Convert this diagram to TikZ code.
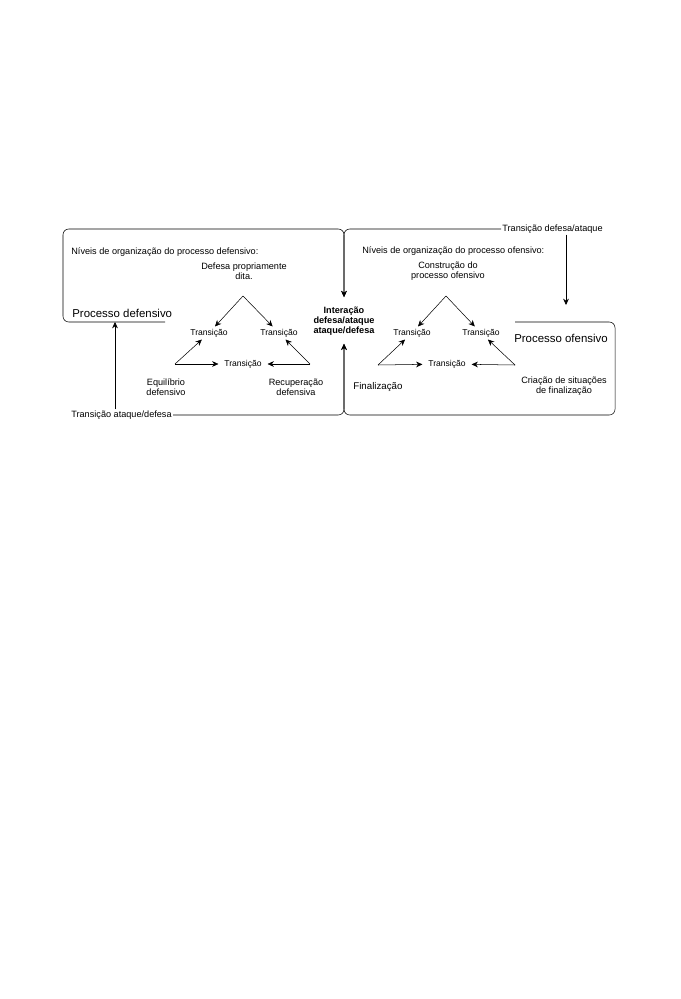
\documentclass[tikz,border=0pt]{standalone}
\usepackage{fontspec}
\setmainfont{Liberation Sans}
\usetikzlibrary{arrows.meta,positioning}

\begin{document}
\begin{tikzpicture}[x=0.875pt,y=-0.875pt,
    frame/.style={line width=0.6pt, rounded corners=5pt},
    link/.style={line width=0.45pt, -{Stealth[length=5.5pt,width=5pt]}},
    lbl/.style={font=\fontsize{8}{8.5}\selectfont, inner sep=1pt, align=center},
    tri/.style={font=\fontsize{7.5}{8}\selectfont, inner xsep=5pt, inner ysep=2pt},
    big/.style={font=\fontsize{10}{12}\selectfont, inner sep=1pt},
    mid/.style={font=\fontsize{8}{9}\selectfont\bfseries, inner sep=1pt, align=center}]
  \useasboundingbox (0,0) rectangle (680,999);

  % defensive side
  \node[lbl, anchor=west] (nivDef) at (70,252) {Níveis de organização do processo defensivo:};
  \node[lbl] (dfTop) at (244,271) {Defesa propriamente\\dita.};
  \coordinate (dfApex) at (243,296);
  \node[tri] (dfTL) at (209,333) {Transição};
  \node[tri] (dfTR) at (279,333) {Transição};
  \node[tri] (dfMid) at (243,364) {Transição};
  \coordinate (dfEqPt) at (175,364);
  \coordinate (dfRecPt) at (310,364);
  \node[lbl] (dfEq) at (166,387) {Equilíbrio\\defensivo};
  \node[lbl] (dfRec) at (296,387) {Recuperação\\defensiva};
  \node[big, anchor=west] (procDef) at (71,313) {Processo defensivo};

  \draw[link] (dfApex) -- (dfTL);
  \draw[link] (dfApex) -- (dfTR);
  \draw[link] (dfEqPt) -- (dfTL);
  \draw[link] (dfEqPt) -- (dfMid);
  \draw[link] (dfRecPt) -- (dfMid);
  \draw[link] (dfRecPt) -- (dfTR);

  % offensive side
  \node[lbl, anchor=west] (nivOf) at (361,251) {Níveis de organização do processo ofensivo:};
  \node[lbl] (ofTop) at (448,271) {Construção do\\processo ofensivo};
  \coordinate (ofApex) at (446,296);
  \node[tri] (ofTL) at (412,333) {Transição};
  \node[tri] (ofTR) at (481,333) {Transição};
  \node[tri] (ofMid) at (447,364) {Transição};
  \coordinate (ofFinPt) at (378,365);
  \coordinate (ofCriPt) at (515,365);
  \node[big, font=\fontsize{8.5}{10}\selectfont, anchor=west] (ofFin) at (352,387) {Finalização};
  \node[lbl] (ofCri) at (564,386) {Criação de situações\\de finalização};
  \node[big] (procOf) at (561,338) {Processo ofensivo};

  \draw[link] (ofApex) -- (ofTL);
  \draw[link] (ofApex) -- (ofTR);
  \draw[link] (ofFinPt) -- (ofTL);
  \draw[link] (ofFinPt) -- (ofMid);
  \draw[link] (ofCriPt) -- (ofMid);
  \draw[link] (ofCriPt) -- (ofTR);

  % interaction and transitions
  \node[mid] (inter) at (344,321) {Interação\\defesa/ataque\\ataque/defesa};
  \node[lbl, anchor=west] (trDA) at (501,229) {Transição defesa/ataque};
  \node[lbl, anchor=west] (trAD) at (70,415) {Transição ataque/defesa};
  \coordinate (topJ) at (344,229);
  \coordinate (botJ) at (344,415);
  \coordinate (adTip) at (115,322);
  \coordinate (daTip) at (566,305);

  \draw[frame, link, shorten >=7pt] (165,322) -- (63,322) -- (63,229) -- (topJ) -- (inter.north);
  \draw[frame, link, shorten >=7pt] (trDA.west) -- (topJ) -- (inter.north);
  \draw[frame, link, shorten >=6pt] (515,322) -- (615,322) -- (615,415) -- (botJ) -- (inter.south);
  \draw[frame, link, shorten >=6pt] (trAD.east) -- (botJ) -- (inter.south);
  \draw[link] (trAD.north -| adTip) -- (adTip);
  \draw[link] (trDA.south -| daTip) -- (daTip);
\end{tikzpicture}
\end{document}
